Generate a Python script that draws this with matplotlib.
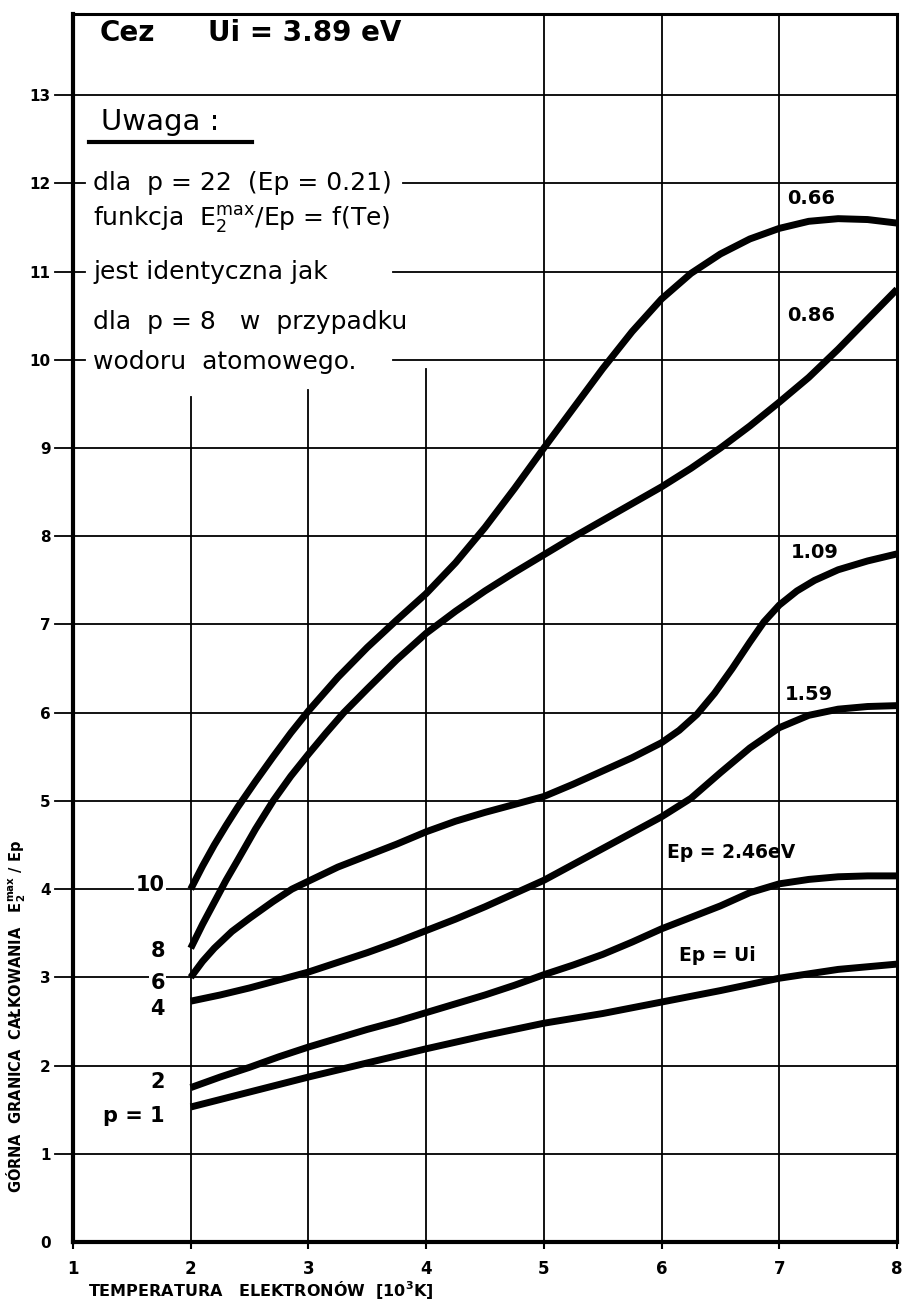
import matplotlib.pyplot as plt

plt.rcParams['font.family'] = ['DejaVu Sans']
plt.rcParams['mathtext.fontset'] = 'dejavusans'

# axes ticks
x_ticks = [1, 2, 3, 4, 5, 6, 7, 8]
y_ticks = list(range(0, 14))

# curves: electron temperature [10^3 K] -> E2max/Ep
te_p10 = [2.0, 2.1, 2.2, 2.3, 2.4, 2.55, 2.7, 2.85, 3.0, 3.25, 3.5, 3.75, 4.0, 4.25, 4.5, 4.75,
          5.0, 5.25, 5.5, 5.75, 6.0, 6.25, 6.5, 6.75, 7.0, 7.25, 7.5, 7.75, 8.0]
e_p10 = [4.0, 4.26, 4.5, 4.72, 4.93, 5.22, 5.5, 5.77, 6.02, 6.4, 6.74, 7.05, 7.35, 7.7, 8.1, 8.54,
         9.0, 9.45, 9.9, 10.32, 10.69, 10.98, 11.2, 11.37, 11.49, 11.57, 11.6, 11.59, 11.55]

te_p8 = [2.0, 2.1, 2.2, 2.3, 2.4, 2.55, 2.7, 2.85, 3.0, 3.15, 3.3, 3.5, 3.75, 4.0, 4.25, 4.5,
         4.75, 5.0, 5.25, 5.5, 5.75, 6.0, 6.25, 6.5, 6.75, 7.0, 7.25, 7.5, 7.75, 8.0]
e_p8 = [3.33, 3.6, 3.85, 4.1, 4.33, 4.68, 5.0, 5.28, 5.53, 5.77, 6.0, 6.27, 6.6, 6.9, 7.15, 7.38,
        7.59, 7.79, 7.99, 8.18, 8.37, 8.56, 8.77, 9.0, 9.25, 9.52, 9.8, 10.12, 10.46, 10.8]

te_p6 = [2.0, 2.1, 2.2, 2.35, 2.5, 2.7, 2.86, 3.0, 3.25, 3.5, 3.75, 4.0, 4.25, 4.5, 4.75, 5.0,
         5.25, 5.5, 5.75, 6.0, 6.15, 6.3, 6.45, 6.6, 6.75, 6.87, 7.0, 7.15, 7.3, 7.5, 7.75, 8.0]
e_p6 = [3.0, 3.18, 3.33, 3.52, 3.67, 3.86, 4.0, 4.09, 4.25, 4.38, 4.51, 4.65, 4.77, 4.87, 4.96, 5.05,
        5.19, 5.34, 5.49, 5.66, 5.8, 5.98, 6.22, 6.5, 6.8, 7.03, 7.22, 7.38, 7.5, 7.62, 7.72, 7.8]

te_p4 = [2.0, 2.25, 2.5, 2.75, 3.0, 3.25, 3.5, 3.75, 4.0, 4.25, 4.5, 4.75, 5.0, 5.25, 5.5, 5.75,
         6.0, 6.25, 6.5, 6.75, 7.0, 7.25, 7.5, 7.75, 8.0]
e_p4 = [2.73, 2.8, 2.88, 2.97, 3.06, 3.17, 3.28, 3.4, 3.53, 3.66, 3.8, 3.95, 4.1, 4.28, 4.46, 4.64,
        4.82, 5.03, 5.32, 5.6, 5.83, 5.97, 6.04, 6.07, 6.08]

te_p2 = [2.0, 2.25, 2.5, 2.75, 3.0, 3.25, 3.5, 3.75, 4.0, 4.25, 4.5, 4.75, 5.0, 5.25, 5.5, 5.75,
         6.0, 6.25, 6.5, 6.75, 7.0, 7.25, 7.5, 7.75, 8.0]
e_p2 = [1.75, 1.87, 1.98, 2.1, 2.21, 2.31, 2.41, 2.5, 2.6, 2.7, 2.8, 2.91, 3.03, 3.14, 3.26, 3.4,
        3.55, 3.68, 3.81, 3.96, 4.06, 4.11, 4.14, 4.15, 4.15]

te_p1 = [2.0, 2.5, 3.0, 3.5, 4.0, 4.5, 5.0, 5.5, 6.0, 6.5, 7.0, 7.5, 8.0]
e_p1 = [1.53, 1.7, 1.87, 2.03, 2.19, 2.34, 2.48, 2.59, 2.72, 2.85, 2.99, 3.09, 3.15]

curves = [(te_p10, e_p10), (te_p8, e_p8), (te_p6, e_p6),
          (te_p4, e_p4), (te_p2, e_p2), (te_p1, e_p1)]

# labels at the right end (Ep in eV) and at the left start (p)
ep_labels = ['0.66', '0.86', '1.09', '1.59']
p_labels = ['10', '8', '6', '4', '2', 'p = 1']

note_lines = [
    'dla  p = 22  (Ep = 0.21)',
    r'funkcja  $\mathrm{E}_{2}^{\mathrm{max}}$/Ep = f(Te)',
    'jest identyczna jak',
    'dla  p = 8   w  przypadku',
    'wodoru  atomowego.',
]

fig = plt.figure(figsize=(9.11, 13), dpi=100)
ax = fig.add_axes([73 / 911, 58 / 1300, 824 / 911, 1228 / 1300])
ax.set_xlim(1, 8)
ax.set_ylim(0, 13.92)

# hand-drawn grid: horizontal lines stick out past the left frame
x_stub = 0.85
for y in y_ticks[1:]:
    if y in (10, 11, 12):
        ax.plot([x_stub, 1.1], [y, y], color='black', lw=1.3, clip_on=False)
        start = 3.8 if y == 12 else 3.72
        ax.plot([start, 8], [y, y], color='black', lw=1.3)
    else:
        ax.plot([x_stub, 8], [y, y], color='black', lw=1.3, clip_on=False)

v_tops = {2: 9.58, 3: 9.66, 4: 9.9, 5: 13.92, 6: 13.92, 7: 13.92}
for x in x_ticks[1:-1]:
    ax.plot([x, x], [0, v_tops[x]], color='black', lw=1.3)

for te, e in curves:
    ax.plot(te, e, color='black', lw=5, solid_capstyle='butt',
            solid_joinstyle='round', zorder=3)

# right-end labels
ep_pos = [(7.07, 11.83), (7.07, 10.5), (7.1, 7.82), (7.05, 6.21)]
for lab, (lx, ly) in zip(ep_labels, ep_pos):
    ax.text(lx, ly, lab, fontsize=14, fontweight='bold', ha='left', va='center')
ax.text(6.05, 4.41, 'Ep = 2.46eV', fontsize=13.5, fontweight='bold', ha='left', va='center')
ax.text(6.15, 3.25, 'Ep = Ui', fontsize=13.5, fontweight='bold', ha='left', va='center')

# left-start labels (p)
p_pos = [4.05, 3.3, 2.94, 2.64, 1.81, 1.43]
for lab, ly in zip(p_labels, p_pos):
    ax.text(1.78, ly, lab, fontsize=15, fontweight='bold', ha='right', va='center',
            bbox=dict(facecolor='white', edgecolor='none', pad=1), zorder=4)

# header and note
ax.text(1.23, 13.7, 'Cez', fontsize=20, fontweight='bold', ha='left', va='center')
ax.text(2.15, 13.7, 'Ui = 3.89 eV', fontsize=20, fontweight='bold', ha='left', va='center')
ax.text(1.24, 12.7, 'Uwaga :', fontsize=21, ha='left', va='center')
ax.plot([1.14, 2.52], [12.47, 12.47], color='black', lw=3)
note_y = [12.0, 11.59, 10.99, 10.43, 9.98]
for line, ly in zip(note_lines, note_y):
    ax.text(1.17, ly, line, fontsize=18, ha='left', va='center')

# frame and ticks
for side in ['left', 'bottom']:
    ax.spines[side].set_linewidth(3)
for side in ['top', 'right']:
    ax.spines[side].set_linewidth(2.2)
ax.set_xticks(x_ticks)
ax.set_xticklabels([str(v) for v in x_ticks], fontsize=12, fontweight='bold')
ax.tick_params(axis='x', direction='out', length=5, width=1.5, pad=8)
ax.set_yticks(y_ticks)
ax.set_yticklabels([str(v) for v in y_ticks], fontsize=11, fontweight='bold')
ax.tick_params(axis='y', length=0, pad=16)

fig.text(88 / 911, 10 / 1300, r'TEMPERATURA   ELEKTRONÓW  [10$^{\mathbf{3}}$K]',
         fontsize=11.5, fontweight='bold', ha='left', va='center')
fig.text(16 / 911, (1300 - 1016) / 1300,
         r'GÓRNA  GRANICA  CAŁKOWANIA   $\mathbf{E}_{\mathbf{2}}^{\mathbf{max}}$ / Ep',
         fontsize=10.5, fontweight='bold', rotation=90, ha='center', va='center')

fig.savefig('out.png', dpi=100)
